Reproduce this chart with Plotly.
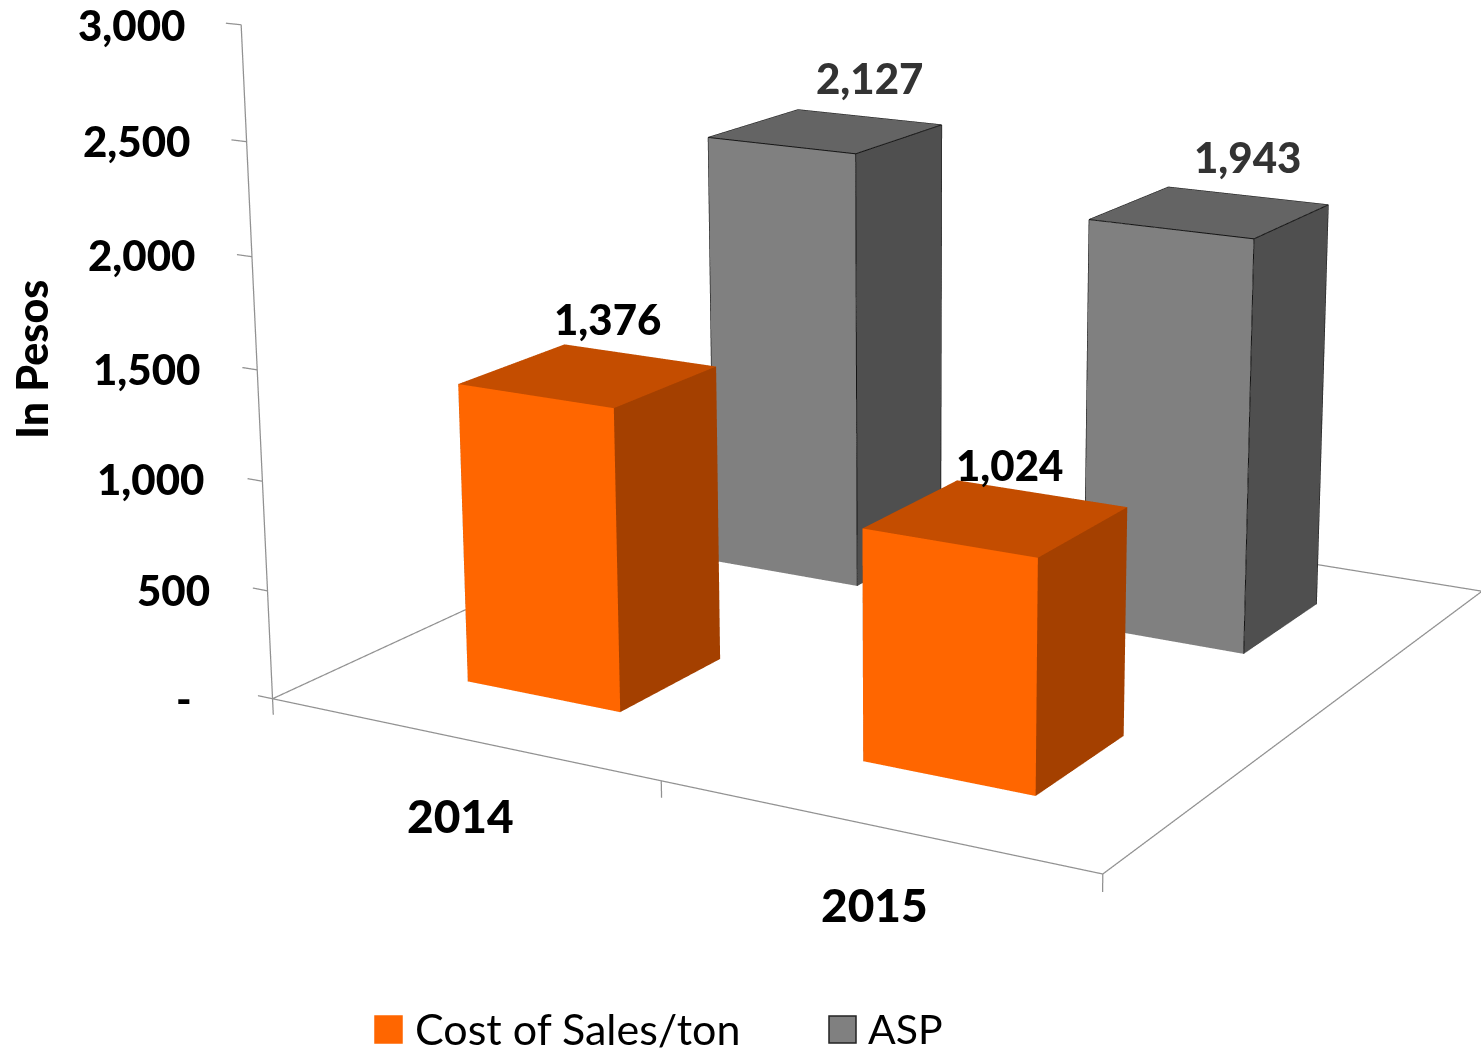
import plotly.graph_objects as go

categories = ["2014", "2015"]
series_names = ["Cost of Sales/ton", "ASP"]
cost_of_sales = [1376, 1024]
asp = [2127, 1943]
tick_values = [0, 500, 1000, 1500, 2000, 2500, 3000]
tick_labels = ["-", "500", "1,000", "1,500", "2,000", "2,500", "3,000"]

# Page window, and a larger canvas whose 45-degree lens matches the long lens of the original
W, H = 1481, 1051
FW, FH = 1816, 3056
OX, OY = 0, 1144
ZMAX = 3000.0
ZL, ZH = -200, 3200
EXT = 1.2
LC = "#919191"
FONT = "Lato"
HEAVY = 900
DEPTH = [(0.150, 0.350), (0.654, 0.858)]


def px(x, y):
    return (x + OX) / FW, 1 - (y + OY) / FH


fig = go.Figure()


def bar(i, j, v, cols, edge):
    x0, x1 = (i + 0.3) / 2, (i + 0.7) / 2
    y0, y1 = DEPTH[j]
    X = [x0, x1, x1, x0, x0, x1, x1, x0]
    Y = [y0, y0, y1, y1, y0, y0, y1, y1]
    Z = [0, 0, 0, 0, v, v, v, v]
    quads = [(0, 1, 5, 4, cols[0]), (1, 2, 6, 5, cols[1]), (4, 5, 6, 7, cols[2]),
             (0, 1, 2, 3, cols[1]), (3, 2, 6, 7, cols[1]), (0, 3, 7, 4, cols[1])]
    I, J, K, FC = [], [], [], []
    for a, b, c, d, col in quads:
        I += [a, a]
        J += [b, c]
        K += [c, d]
        FC += [col, col]
    fig.add_trace(go.Mesh3d(x=X, y=Y, z=Z, i=I, j=J, k=K, facecolor=FC, flatshading=True, hoverinfo="skip",
                            lighting=dict(ambient=1, diffuse=0, specular=0, roughness=1, fresnel=0)))
    if edge:
        ex = [x0, x1, x1, x0, x0, None, x0, x0, None, x1, x1, None, x1, x1]
        ey = [y0, y0, y1, y1, y0, None, y0, y0, None, y0, y0, None, y1, y1]
        ez = [v, v, v, v, v, None, 0, v, None, 0, v, None, 0, v]
        fig.add_trace(go.Scatter3d(x=ex, y=ey, z=ez, mode="lines", line=dict(color=edge, width=2),
                                   hoverinfo="skip", showlegend=False))


ORANGE = ("#FF6600", "#A44000", "#C44D00")
GREY = ("#808080", "#4F4F4F", "#646464")
for i, v in enumerate(asp):
    bar(i, 1, v, GREY, "#141414")
for i, v in enumerate(cost_of_sales):
    bar(i, 0, v, ORANGE, None)

fx = [0, 1, 1, 0, 0, None, 0, 0]
fy = [0, 0, 1, 1, 0, None, 0, 0]
fz = [0, 0, 0, 0, 0, None, 0, ZMAX]
for t in tick_values:
    fx += [None, 0, -0.02]
    fy += [None, 0, 0]
    fz += [None, t, t]
for t in (0, .5, 1):
    fx += [None, t, t]
    fy += [None, 0, 0]
    fz += [None, 0, -75]
fig.add_trace(go.Scatter3d(x=fx, y=fy, z=fz, mode="lines", line=dict(color=LC, width=2.5),
                           hoverinfo="skip", showlegend=False))

# text
ann = []


def text(t, x, y, size, color="black", bold=True, xanchor="center", angle=0):
    xp, yp = px(x, y)
    ann.append(dict(xref="paper", yref="paper", x=xp, y=yp, xanchor=xanchor, yanchor="middle", showarrow=False,
                    text=t, textangle=angle,
                    font=dict(family=FONT, size=size, color=color, weight=HEAVY if bold else 400)))


tick_right = [194, 212, 206, 202, 197, 192, 187]
tick_y = [698, 590, 479, 369, 255, 141, 25]
for lab, xr, yy in zip(tick_labels, tick_right, tick_y):
    text(lab, xr, yy, 42, xanchor="right")
text(categories[0], 460, 815, 46)
text(categories[1], 874, 904, 46)
text("In Pesos", 31, 360, 43, angle=-90)
text(series_names[0], 413, 1028, 43, bold=False, xanchor="left")
text(series_names[1], 866, 1028, 41, bold=False, xanchor="left")

shapes = []
for (x0, x1, col, line) in [(375, 402, "#FF6600", "#FF6600"), (829, 856, "#808080", "#222222")]:
    a, b = px(x0, 1016), px(x1, 1043)
    shapes.append(dict(type="rect", xref="paper", yref="paper", x0=a[0], x1=b[0], y0=a[1], y1=b[1],
                       fillcolor=col, line=dict(color=line, width=1.5)))

scene_ann = []


def data_label(i, j, v, color, xshift, yshift):
    scene_ann.append(dict(x=(i + 0.5) / 2, y=DEPTH[j][1], z=v, text="{:,}".format(v), showarrow=False,
                          xshift=xshift, yshift=yshift,
                          font=dict(family=FONT, size=42, color=color, weight=HEAVY)))


for i, (v, ys) in enumerate(zip(cost_of_sales, (36, 29))):
    data_label(i, 0, v, "black", -32, ys)
for i, (v, ys) in enumerate(zip(asp, (39, 39))):
    data_label(i, 1, v, "#333333", 0, ys)

ax_off = dict(visible=False, showspikes=False)
fig.update_layout(
    width=FW, height=FH, margin=dict(l=0, r=0, t=0, b=0), paper_bgcolor="white", showlegend=False,
    annotations=ann, shapes=shapes,
    scene=dict(domain=dict(x=[0, 1], y=[0, 1]), aspectmode="manual",
               aspectratio=dict(x=EXT, y=0.996 * EXT, z=0.733 * (ZH - ZL) / ZMAX),
               xaxis=dict(range=[.5 - EXT / 2, .5 + EXT / 2], **ax_off),
               yaxis=dict(range=[.5 - EXT / 2, .5 + EXT / 2], **ax_off),
               zaxis=dict(range=[ZL, ZH], **ax_off),
               annotations=scene_ann,
               camera=dict(eye=dict(x=1.948, y=-3.433, z=0.978), center=dict(x=-0.009, y=0.026, z=-0.072),
                           up=dict(x=-0.003, y=0, z=1), projection=dict(type="perspective"))))
post = ("document.documentElement.style.overflow='hidden';"
        "document.body.style.cssText='margin:0;overflow:hidden;';"
        "var g=document.querySelector('.plotly-graph-div');"
        "g.style.position='absolute';g.style.left='%dpx';g.style.top='%dpx';" % (-OX, -OY))
fig.write_html("out.html", config=dict(displayModeBar=False), post_script=post)
